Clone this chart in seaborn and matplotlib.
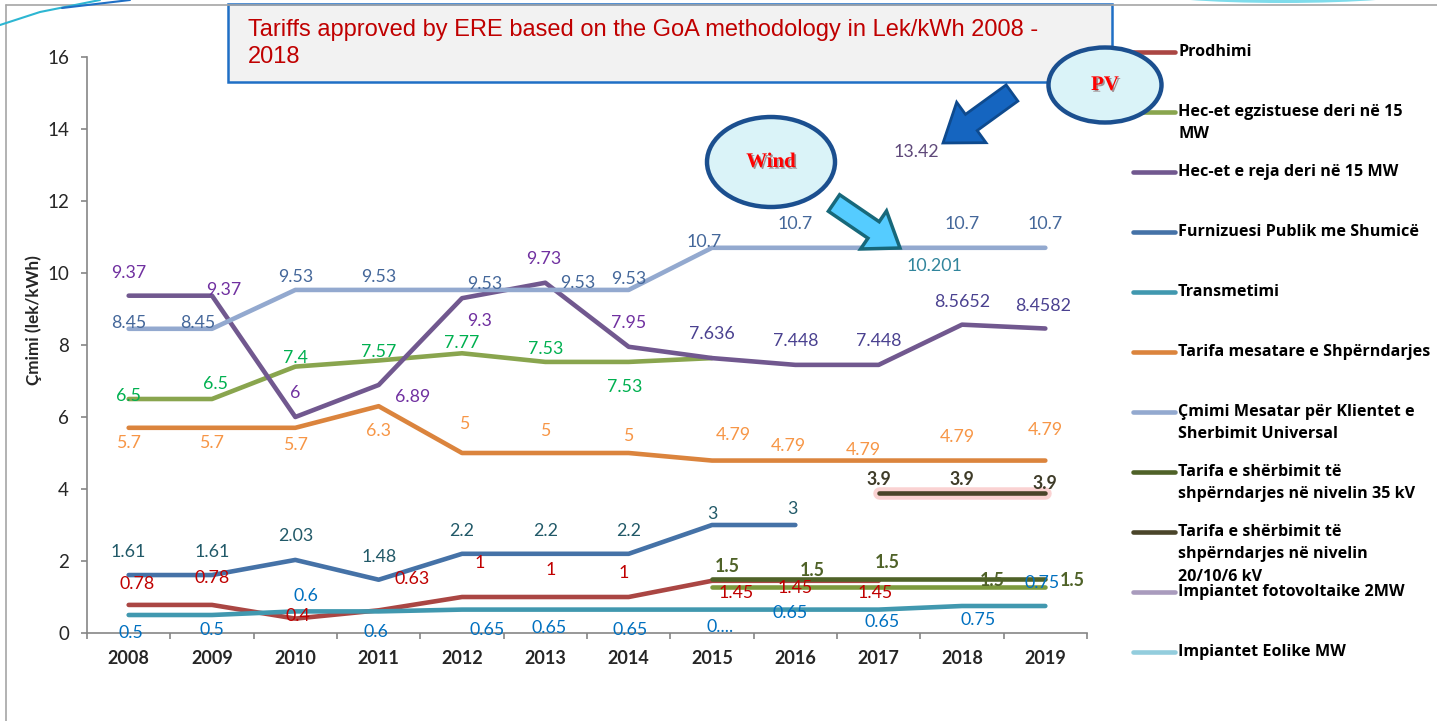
import numpy as np
import pandas as pd
import matplotlib
matplotlib.use("Agg")
import matplotlib.pyplot as plt
import matplotlib.patheffects as pe
from matplotlib.patches import Ellipse, Rectangle, FancyArrow
from matplotlib.lines import Line2D
from matplotlib.transforms import IdentityTransform
import seaborn as sns

# ---------------- data (Lek/kWh) ----------------
years = [2008, 2009, 2010, 2011, 2012, 2013, 2014, 2015, 2016, 2017, 2018, 2019]
nan = np.nan

prodhimi      = [0.78, 0.78, 0.4, 0.63, 1, 1, 1, 1.45, 1.45, 1.45, nan, nan]
hec_ekz       = [6.5, 6.5, 7.4, 7.57, 7.77, 7.53, 7.53, 7.636, nan, nan, nan, nan]
hec_ekz_2015  = [nan, nan, nan, nan, nan, nan, nan, 1.28, 1.28, 1.28, 1.28, 1.28]
hec_reja      = [9.37, 9.37, 6, 6.89, 9.3, 9.73, 7.95, 7.636, 7.448, 7.448, 8.5652, 8.4582]
furnizuesi    = [1.61, 1.61, 2.03, 1.48, 2.2, 2.2, 2.2, 3, 3, nan, nan, nan]
transmetimi   = [0.5, 0.5, 0.6, 0.6, 0.65, 0.65, 0.65, 0.65, 0.65, 0.65, 0.75, 0.75]
shperndarje   = [5.7, 5.7, 5.7, 6.3, 5, 5, 5, 4.79, 4.79, 4.79, 4.79, 4.79]
cmimi_mesatar = [8.45, 8.45, 9.53, 9.53, 9.53, 9.53, 9.53, 10.7, 10.7, 10.7, 10.7, 10.7]
tarifa_35kv   = [nan, nan, nan, nan, nan, nan, nan, 1.5, 1.5, 1.5, 1.5, 1.5]
tarifa_20kv   = [nan, nan, nan, nan, nan, nan, nan, nan, nan, 3.9, 3.9, 3.9]
fotovoltaike  = [nan, nan, nan, nan, nan, nan, nan, nan, nan, 13.42, nan, nan]
eolike        = [nan, nan, nan, nan, nan, nan, nan, nan, nan, 10.201, nan, nan]

legend_labels = [
    "Prodhimi",
    "Hec-et egzistuese deri në 15\nMW",
    "Hec-et e reja deri në 15 MW",
    "Furnizuesi Publik me Shumicë",
    "Transmetimi",
    "Tarifa mesatare e Shpërndarjes",
    "Çmimi Mesatar për Klientet e\nSherbimit Universal",
    "Tarifa e shërbimit të\nshpërndarjes në nivelin 35 kV",
    "Tarifa e shërbimit të\nshpërndarjes në nivelin\n20/10/6 kV",
    "Impiantet fotovoltaike 2MW",
    "Impiantet Eolike MW",
]

# label offsets in pixels (dx right, dy down); None = no label
off_prodhimi = [(8, -21), (0, -27), (3, -3), (33, -31), (18, -34), (5, -27), (-5, -24),
                (24, 12), (0, 7), (-4, 12), None, None]
off_hec_ekz = [(0, -3), (4, -15), (0, -9), (0, -8), (0, -10), (0, -13), (-4, 25),
               None, None, None, None, None]
off_hec_reja = [(0, -23), (12, -6), (0, -24), (34, 12), (18, 23), (-2, -24), (0, -24),
                (0, -24), (0, -24), (0, -24), (0, -23), (-2, -23)]
off_furn = [(0, -23), (0, -23), (0, -24), (0, -23), (0, -23), (0, -23), (0, -23),
            (0, -11), (-3, -16), None, None, None]
off_trans = [(2, 18), (0, 15), (11, -15), (-3, 21), (25, 20), (4, 18), (1, 20),
             (8, 17), (-5, 3), (3, 12), (16, 14), (-3, -23)]
off_shp = [(0, 15), (0, 15), (0, 17), (0, 25), (2, -29), (0, -22), (0, -17),
           (21, -26), (-7, -15), (-15, -11), (-5, -24), (0, -31)]
off_cm = [(0, -6), (-14, -6), (0, -13), (0, -13), (23, -6), (32, -7), (0, -11),
          (-8, -6), (0, -24), None, (0, -24), (0, -24)]
off_35 = [None] * 7 + [(15, -12), (17, -9), (9, -16), (30, 2), (27, 2)]
off_20 = [None] * 9 + [(0, -13), (0, -13), (0, -9)]
off_pv = [None] * 9 + [(38, 2), None, None]
off_eol = [None] * 9 + [(56, 0), None, None]
no_labels = [None] * 12

text_override = {("transmetimi", 2015): "0...."}

series = [
    # key, values, line colour, label colour, bold, offsets, legend index
    ("prodhimi", prodhimi, "#AA4643", "#C00000", False, off_prodhimi, 0),
    ("hec_ekz", hec_ekz, "#89A54E", "#00B050", False, off_hec_ekz, 1),
    ("hec_reja", hec_reja, "#71588F", None, False, off_hec_reja, 2),
    ("furnizuesi", furnizuesi, "#4572A7", "#215968", False, off_furn, 3),
    ("transmetimi", transmetimi, "#4198AF", "#0070C0", False, off_trans, 4),
    ("shperndarje", shperndarje, "#DB843D", "#F79646", False, off_shp, 5),
    ("cmimi", cmimi_mesatar, "#93A9CF", "#44679A", False, off_cm, 6),
    ("hec_ekz_2015", hec_ekz_2015, "#7C9A3D", "#7C9A3D", False, no_labels, None),
    ("tarifa_35", tarifa_35kv, "#4F6228", "#4F6228", True, off_35, 7),
    ("tarifa_20", tarifa_20kv, "#4A452A", "#3F3C29", True, off_20, 8),
    ("pv", fotovoltaike, "#A99BBD", "#5F497A", False, off_pv, 9),
    ("eolike", eolike, "#93CDDD", "#31859C", False, off_eol, 10),
]
legend_colors = {}

# ---------------- figure ----------------
sns.set_style("white")
plt.rcParams["font.family"] = ["Lato", "DejaVu Sans"]

W, H = 1437, 721
fig = plt.figure(figsize=(W / 100, H / 100), dpi=100)
ax = fig.add_axes([87 / W, (H - 633) / H, 1000 / W, 576 / H])

for key, vals, lc, tc, bold, offs, li in series:
    s = pd.Series(vals, index=years).dropna()
    if len(s) > 1:
        sns.lineplot(x=s.index, y=s.values, ax=ax, color=lc, linewidth=3.3,
                     solid_capstyle="round", zorder=3)
        line = ax.lines[-1]
        if key == "tarifa_20":
            line.set_path_effects([pe.Stroke(linewidth=9, foreground="#F7B4B4", alpha=0.6),
                                   pe.Normal()])
    if li is not None:
        legend_colors[li] = lc
    for i, (yr, v) in enumerate(zip(years, vals)):
        if np.isnan(v) or offs[i] is None:
            continue
        txt = text_override.get((key, yr), f"{v:g}")
        col = tc
        if key == "hec_reja":
            col = "#7030A0" if yr <= 2014 else "#4A4190"
        dx, dy = offs[i]
        ax.annotate(txt, (yr, v), xytext=(dx, -dy), textcoords="offset pixels",
                    ha="center", va="center", fontsize=12.8, color=col,
                    fontweight="bold" if bold else "normal", zorder=5)

ax.set_xlim(2007.5, 2019.5)
ax.set_ylim(0, 16)
ax.set_yticks(range(0, 17, 2))
ax.set_xticks(years)
ax.set_xticklabels([str(y) for y in years], fontweight="bold", fontsize=13)
ax.set_xticks(np.arange(2007.5, 2020, 1), minor=True)
ax.tick_params(axis="x", which="major", length=0, pad=12)
ax.tick_params(axis="x", which="minor", length=4, width=1.2, color="#868686", direction="out")
ax.tick_params(axis="y", length=4, width=1.2, color="#868686", direction="out",
               labelsize=13.5, pad=9)
ax.tick_params(axis="y", which="major", left=True)
ax.tick_params(axis="x", which="minor", bottom=True)
for sp in ["top", "right"]:
    ax.spines[sp].set_visible(False)
for sp in ["left", "bottom"]:
    ax.spines[sp].set_color("#868686")
    ax.spines[sp].set_linewidth(1.2)
ax.set_ylabel("Çmimi (lek/kWh)", fontsize=12.3, fontweight="bold")
ax.yaxis.set_label_coords(-0.045, 0.543)
ax.set_xlabel("")

# ---------------- legend (manual, Excel-like spacing) ----------------
ident = IdentityTransform()
leg_y = [52, 112, 172, 232, 292, 352, 412, 472, 532, 592, 652]
for li, lab in enumerate(legend_labels):
    yy = H - leg_y[li]
    fig.add_artist(Line2D([1133, 1175], [yy, yy], color=legend_colors[li], lw=3.3,
                          solid_capstyle="round", transform=ident))
    for k, part in enumerate(lab.split("\n")):
        fig.text(1178 / W, (yy - k * 22.5) / H, part, ha="left", va="center",
                 fontsize=11.6, fontweight="bold", family=["Open Sans", "DejaVu Sans"],
                 color="black")

# ---------------- slide decoration ----------------
fig.add_artist(Line2D([6, 6], [0, H - 5], color="#A6A6A6", lw=1.2, transform=ident))
fig.add_artist(Line2D([6, W], [H - 5, H - 5], color="#A6A6A6", lw=1.2, transform=ident))
fig.add_artist(Line2D([0, 40, 100], [H - 25, H - 12, H], color="#2DB6D2", lw=1.5, transform=ident))
fig.add_artist(Line2D([62, 130], [H - 8, H], color="#1F6FC5", lw=1.5, transform=ident))
fig.add_artist(Ellipse((1283, H + 8), 270, 22, facecolor="#7FDCEB", edgecolor="none",
                       transform=ident))

# title box
fig.add_artist(Rectangle((228, H - 82), 884, 78, facecolor="#F2F2F2", edgecolor="#1F6FC5",
                         lw=1.8, transform=ident))
fig.text(248 / W, (H - 43.5) / H, "Tariffs approved by ERE based on the GoA methodology in Lek/kWh 2008 -\n2018",
         ha="left", va="center", fontsize=17, color="#C00000",
         family=["Liberation Sans", "DejaVu Sans"], linespacing=1.25)

# ellipses + arrows
for (cx, cy, ew, eh, lab) in [(771, 162, 128, 90, "Wind"), (1105, 85, 113, 75, "PV")]:
    fig.add_artist(Ellipse((cx, H - cy), ew, eh, facecolor="#DAF3F8", edgecolor="#1B4F8F",
                           lw=3.2, transform=ident, zorder=6))
    fig.text(cx / W, (H - cy) / H, lab, ha="center", va="center", fontsize=15,
             fontweight="bold", color="#FF0000", family=["Liberation Serif", "DejaVu Serif"],
             zorder=7, path_effects=[pe.SimplePatchShadow(offset=(1.2, -1.2), alpha=0.4),
                                     pe.Normal()])

fig.add_artist(FancyArrow(1012, H - 93, -69, -50, width=20, head_width=50, head_length=35,
                          length_includes_head=True, facecolor="#1565C0", edgecolor="#0E4A8E",
                          lw=2, transform=ident, zorder=6))
fig.add_artist(FancyArrow(834, H - 203, 66, -45, width=20, head_width=46, head_length=32,
                          length_includes_head=True, facecolor="#55CCFF", edgecolor="#17687A",
                          lw=2.5, transform=ident, zorder=6))

fig.savefig("out.png", dpi=100)
